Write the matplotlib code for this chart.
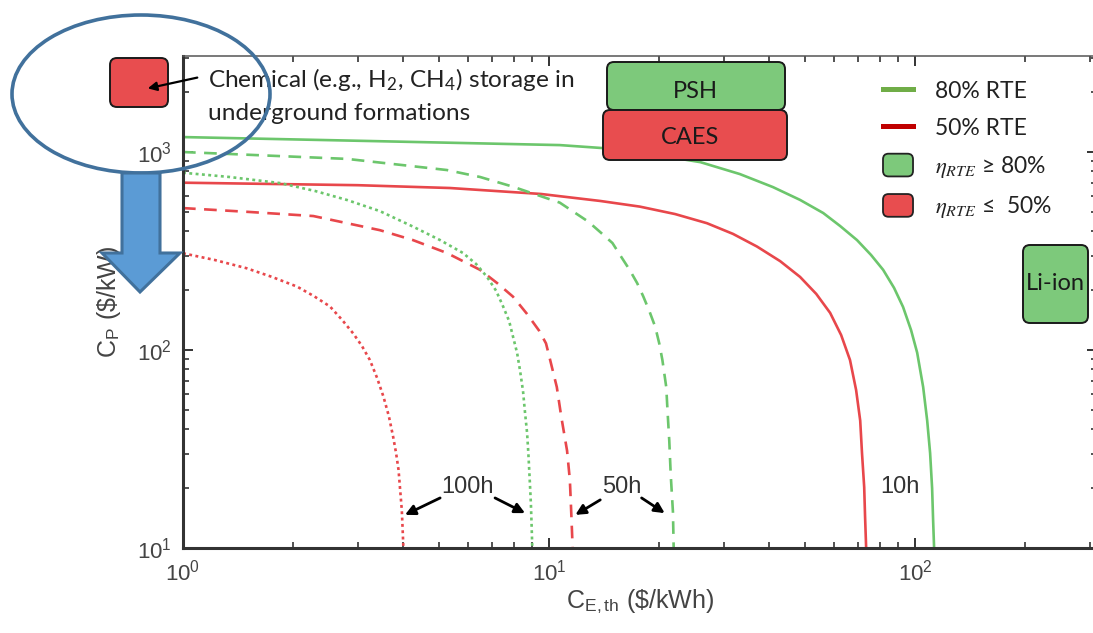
import numpy as np
import matplotlib
matplotlib.use("Agg")
import matplotlib.pyplot as plt
from matplotlib.patches import FancyBboxPatch, Ellipse, Polygon, FancyArrowPatch, Patch
from matplotlib.lines import Line2D
from matplotlib.legend_handler import HandlerPatch
from matplotlib.transforms import Affine2D
from matplotlib.ticker import FuncFormatter, LogLocator, NullFormatter

plt.rcParams['font.family'] = ['Liberation Sans', 'DejaVu Sans']
plt.rcParams['mathtext.fontset'] = 'stix'

# curves: C_E,th ($/kWh) vs C_P ($/kW)
x_10h_80 = [1, 3, 10.7, 14.0, 18.9, 25.9, 33.2, 40.9, 48.5, 56.1, 62.4, 69.4, 75.8, 81.8, 87.6,
            92.7, 97.5, 101.3, 105.2, 107.9, 109.9, 111.3, 112.0, 112.7]
y_10h_80 = [1190, 1140, 1084, 1047, 977, 889, 774, 665, 573, 492, 423, 359, 302, 254, 206,
            165, 126, 97, 65, 44, 30.2, 20, 13.8, 10]
x_10h_50 = [1, 3, 5.36, 9.5, 13.8, 17.7, 22.1, 27.0, 31.8, 37.0, 42.8, 48.5, 53.7, 58.6, 62.8,
            66.4, 69.0, 70.8, 71.6, 72.6, 73.0, 73.5]
y_10h_50 = [700, 680, 658, 614, 566, 530, 486, 437, 386, 333, 281, 234, 192, 154, 119,
            89, 62.8, 44, 30.2, 20.3, 14.4, 10]
x_50h_80 = [1, 2.81, 5.26, 6.48, 7.97, 9.28, 10.7, 12.8, 13.8, 14.9, 15.7, 16.6, 17.4, 18.1,
            18.8, 19.5, 20.0, 20.4, 20.9, 21.1, 21.3, 21.5, 21.8, 21.9]
y_50h_80 = [1000, 923, 811, 748, 668, 607, 555, 445, 394, 347, 298, 254, 218, 186,
            157, 131, 108, 89, 65, 47, 35, 23.4, 15.2, 10]
x_50h_50 = [1, 1.52, 2.27, 3.45, 4.25, 5.26, 6.48, 7.21, 7.97, 8.71, 9.40, 9.81, 10.07, 10.5,
            10.8, 11.2, 11.4, 11.5, 11.6]
y_50h_50 = [521, 498, 475, 403, 359, 309, 254, 218, 186, 152, 125, 108, 89, 65,
            46, 31, 22, 15, 10]
x_100h_80 = [1, 1.34, 1.84, 2.30, 2.81, 3.45, 4.25, 5.04, 5.82, 6.32, 6.77, 7.17, 7.49, 7.78,
             7.97, 8.18, 8.33, 8.49, 8.6, 8.71, 8.78, 8.85, 8.92, 8.96, 9.0]
y_100h_80 = [786, 748, 697, 635, 572, 503, 420, 359, 309, 272, 234, 199, 166, 140,
             117, 96.6, 79, 62, 48, 38.1, 30, 22.6, 16.8, 13.1, 10]
x_100h_50 = [1, 1.22, 1.49, 1.75, 2.05, 2.28, 2.52, 2.72, 2.92, 3.08, 3.24, 3.39, 3.53, 3.65,
             3.75, 3.82, 3.88, 3.92, 3.96, 3.98, 4.0]
y_100h_50 = [308, 285, 259, 234, 209, 187, 166, 142, 121, 105, 89, 72.3, 58, 46.4,
             36.5, 30.2, 24.8, 19.6, 15.6, 12.6, 10]

green = '#6cc66c'
red = '#e8474b'
box_green = '#7dc97b'
box_red = '#e84d4f'

W, H = 1093, 633
fig = plt.figure(figsize=(W / 100, H / 100), dpi=100)
ax = fig.add_axes([183 / W, 1 - 548 / H, (1097 - 183) / W, (548 - 56) / H])
# pixel coords measured from the top-left corner of the image
pix = Affine2D().scale(1, -1).translate(0, H)

lw = 1.9
ax.plot(x_10h_80, y_10h_80, color=green, lw=lw)
ax.plot(x_10h_50, y_10h_50, color=red, lw=lw)
ax.plot(x_50h_80, y_50h_80, color=green, lw=lw, dashes=(4.8, 3.2))
ax.plot(x_50h_50, y_50h_50, color=red, lw=lw, dashes=(4.8, 3.2))
ax.plot(x_100h_80, y_100h_80, color=green, lw=lw, dashes=(1.1, 1.3))
ax.plot(x_100h_50, y_100h_50, color=red, lw=lw, dashes=(1.1, 1.3))

ax.set_xscale('log')
ax.set_yscale('log')
ax.set_xlim(1, 314)
ax.set_ylim(10, 3055)

fmt = FuncFormatter(lambda v, p: r'$\mathregular{10^{%d}}$' % round(np.log10(v)))
for axis in (ax.xaxis, ax.yaxis):
    axis.set_major_locator(LogLocator(base=10))
    axis.set_minor_locator(LogLocator(base=10, subs=np.arange(2, 10)))
    axis.set_major_formatter(fmt)
    axis.set_minor_formatter(NullFormatter())

ax.tick_params(which='both', direction='in', top=True, right=True, color='#333',
               labelsize=16, labelcolor='#444', pad=8)
ax.tick_params(which='major', length=7, width=1.4)
ax.tick_params(which='minor', length=4, width=1.2)
for s in ('left', 'bottom'):
    ax.spines[s].set_linewidth(2.2)
    ax.spines[s].set_color('#333')
for s in ('top', 'right'):
    ax.spines[s].set_linewidth(1.1)
    ax.spines[s].set_color('#555')

ax.set_xlabel(r'C$_{\mathregular{E,th}}$ (\$/kWh)', fontsize=18, color='#444', labelpad=2)
ax.set_ylabel(r'C$_{\mathregular{P}}$ (\$/kW)', fontsize=18, color='#444', labelpad=10)

# duration labels
arrow_kw = dict(arrowstyle='-|>', color='black', lw=2, mutation_scale=15, shrinkA=0, shrinkB=0)
ax.text(6.0, 20.3, '100h', fontsize=17, color='#333', ha='center', va='center')
ax.annotate('', xy=(4.04, 14.7), xytext=(5.04, 17.9), arrowprops=arrow_kw)
ax.annotate('', xy=(8.6, 15.0), xytext=(7.12, 17.9), arrowprops=arrow_kw)
ax.text(15.8, 20.3, '50h', fontsize=17, color='#333', ha='center', va='center')
ax.annotate('', xy=(11.8, 14.7), xytext=(13.8, 17.5), arrowprops=arrow_kw)
ax.annotate('', xy=(20.7, 15.0), xytext=(17.9, 17.9), arrowprops=arrow_kw)
ax.text(91, 20.3, '10h', fontsize=17, color='#333', ha='center', va='center')

# legend
def round_patch(legend, orig_handle, xdescent, ydescent, width, height, fontsize):
    return FancyBboxPatch((-xdescent, -ydescent), width, height,
                          boxstyle='round,pad=0,rounding_size=4')

handles = [
    Line2D([], [], color='#70ad47', lw=3.6),
    Line2D([], [], color='#c00000', lw=3.6),
    Patch(facecolor=box_green, edgecolor='#222', lw=1.3),
    Patch(facecolor=box_red, edgecolor='#222', lw=1.3),
]
labels = ['80% RTE', '50% RTE', r'$\eta_{RTE}$ ≥ 80%', r'$\eta_{RTE}$ ≤  50%']
leg = ax.legend(handles, labels, loc='upper left', frameon=False,
                bbox_to_anchor=(883 / W, 1 - 79 / H), bbox_transform=fig.transFigure,
                prop={'family': ['Lato', 'DejaVu Sans'], 'size': 16.5},
                handlelength=1.31, handleheight=1.15, handletextpad=0.95,
                labelspacing=0.62, borderpad=0, borderaxespad=0,
                handler_map={Patch: HandlerPatch(patch_func=round_patch)})
for t in leg.get_texts():
    t.set_color('#222')

# technology boxes
cal = ['Lato', 'DejaVu Sans']
def tech_box(x0, y0, x1, y1, color, label, tx, ty, size=17):
    fig.add_artist(FancyBboxPatch((x0, y0), x1 - x0, y1 - y0, boxstyle='round,pad=0,rounding_size=7',
                                  facecolor=color, edgecolor='#1a1a1a', lw=1.4, transform=pix))
    fig.text(tx / W, 1 - ty / H, label, family=cal, fontsize=size, color='#1a1a1a',
             ha='center', va='center')

tech_box(607, 62, 785, 110, box_green, 'PSH', 695, 92)
tech_box(603, 110, 787, 160, box_red, 'CAES', 690, 138)
tech_box(1023, 245, 1088, 323, box_green, 'Li-ion', 1055, 283)

# underground chemical storage marker
fig.add_artist(FancyBboxPatch((110, 58), 58, 49, boxstyle='round,pad=0,rounding_size=7',
                              facecolor=box_red, edgecolor='#1a1a1a', lw=1.4, transform=pix))
fig.add_artist(FancyArrowPatch((200, 77), (145, 89), arrowstyle='-|>', mutation_scale=13,
                               color='black', lw=1.6, transform=pix))
fig.text(208 / W, 1 - 95 / H,
         'Chemical (e.g., H$_{\\mathregular{2}}$, CH$_{\\mathregular{4}}$) storage in\nunderground formations',
         family=cal, fontsize=17.6, color='#222', ha='left', va='center', linespacing=1.55)

# highlight ellipse and down arrow
fig.add_artist(Ellipse((141, 94), 258, 158, facecolor='none', edgecolor='#41719c', lw=2.6,
                       transform=pix, zorder=5))
arrow_pts = [(122, 173), (160, 173), (160, 253), (180, 253), (140, 292), (102, 253), (122, 253)]
fig.add_artist(Polygon(arrow_pts, closed=True, facecolor='#5b9bd5', edgecolor='#41719c',
                       lw=2.2, joinstyle='miter', transform=pix, zorder=5))

fig.savefig('out.png', dpi=100)
